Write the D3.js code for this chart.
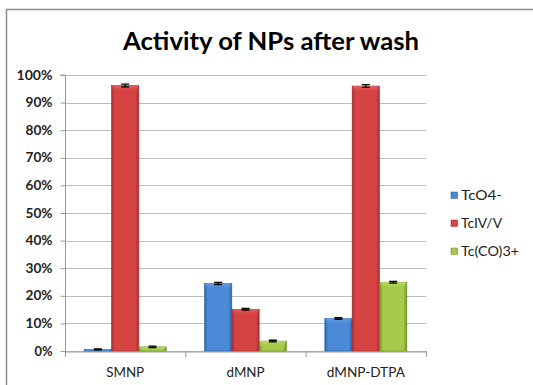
<!DOCTYPE html>
<html>
<head>
<meta charset="utf-8">
<script src="https://cdn.jsdelivr.net/npm/d3@7"></script>
<style>
  html, body { margin: 0; padding: 0; background: #fff; }
  svg { display: block; }
</style>
</head>
<body>
<svg id="chart" width="533" height="385"></svg>
<script>
// Chart data
const categories = ["SMNP", "dMNP", "dMNP-DTPA"];
const seriesNames = ["TcO4-", "TcIV/V", "Tc(CO)3+"];
const tco4 = [0.006, 0.245, 0.118];
const tcIVV = [0.962, 0.151, 0.960];
const tcCO3 = [0.015, 0.036, 0.249];
const errors = [[0.002, 0.004, 0.003], [0.005, 0.003, 0.005], [0.003, 0.003, 0.003]];
const yTicks = [0, 0.1, 0.2, 0.3, 0.4, 0.5, 0.6, 0.7, 0.8, 0.9, 1.0];

const seriesValues = [tco4, tcIVV, tcCO3];
const palette = [
  { dark: "#2f62a6", mid: "#4b8ad6", light: "#6fa3e6" },
  { dark: "#a82c2c", mid: "#d64343", light: "#e86a6a" },
  { dark: "#6f8f25", mid: "#a5ca4a", light: "#c2e070" }
];

const svg = d3.select("#chart");
const font = "Lato, 'Open Sans', 'Liberation Sans', sans-serif";

// Stretch a text element horizontally to a given width
function fitWidth(sel, w) {
  sel.attr("textLength", w).attr("lengthAdjust", "spacingAndGlyphs");
}

// Outer chart frame
svg.append("rect")
  .attr("x", 6.5).attr("y", 9.5)
  .attr("width", 600).attr("height", 500)
  .attr("fill", "#fff")
  .attr("stroke", "#8c8c8c").attr("stroke-width", 1.5);

// Title
svg.append("text")
  .attr("x", 271).attr("y", 50)
  .attr("text-anchor", "middle")
  .attr("font-family", font)
  .attr("font-weight", "bold")
  .attr("font-size", 25)
  .attr("fill", "#000")
  .text("Activity of NPs after wash")
  .call(fitWidth, 296);

const plot = { left: 65, right: 426, top: 75, bottom: 351 };

const x = d3.scaleBand().domain(categories).range([plot.left, plot.right]);
const y = d3.scaleLinear().domain([0, 1]).range([plot.bottom, plot.top]);
const inner = d3.scaleBand().domain(seriesNames)
  .range([0, x.bandwidth()]).paddingOuter(0.7).paddingInner(0);

// Gradients for the bevelled bars
const defs = svg.append("defs");
palette.forEach((c, i) => {
  const g = defs.append("linearGradient").attr("id", "grad" + i)
    .attr("x1", "0").attr("x2", "1").attr("y1", "0").attr("y2", "0");
  g.append("stop").attr("offset", "0%").attr("stop-color", c.dark);
  g.append("stop").attr("offset", "12%").attr("stop-color", c.mid);
  g.append("stop").attr("offset", "88%").attr("stop-color", c.mid);
  g.append("stop").attr("offset", "100%").attr("stop-color", c.dark);
  const t = defs.append("linearGradient").attr("id", "top" + i)
    .attr("x1", "0").attr("x2", "0").attr("y1", "0").attr("y2", "1");
  t.append("stop").attr("offset", "0%").attr("stop-color", c.light).attr("stop-opacity", 0.9);
  t.append("stop").attr("offset", "100%").attr("stop-color", c.mid).attr("stop-opacity", 0);
});

// Gridlines
svg.append("g")
  .selectAll("line")
  .data(yTicks)
  .join("line")
  .attr("x1", plot.left).attr("x2", plot.right)
  .attr("y1", d => Math.round(y(d)) + 0.5).attr("y2", d => Math.round(y(d)) + 0.5)
  .attr("stroke", "#bdbdbd").attr("stroke-width", 1);

// Y axis
const yAxis = svg.append("g")
  .attr("transform", `translate(${plot.left + 0.5},0)`)
  .call(d3.axisLeft(y).tickValues(yTicks).tickFormat(d3.format(".0%")).tickSize(5).tickPadding(8));
yAxis.select(".domain").attr("stroke", "#999").attr("d", `M-5,${plot.top}H0V${plot.bottom + 0.5}`);
yAxis.selectAll(".tick line").attr("stroke", "#999");
yAxis.selectAll("text")
  .attr("font-family", font).attr("font-size", 13).attr("font-weight", "bold").attr("fill", "#222")
  .each(function (d) {
    const label = d3.format(".0%")(d);
    fitWidth(d3.select(this), label.length * 9);
  });

// X axis
const xAxis = svg.append("g")
  .attr("transform", `translate(0,${plot.bottom + 0.5})`)
  .call(d3.axisBottom(x).tickSize(0).tickPadding(16));
xAxis.select(".domain").attr("stroke", "#999");
const catWidths = { "SMNP": 38, "dMNP": 38, "dMNP-DTPA": 78 };
xAxis.selectAll("text")
  .attr("font-family", font).attr("font-size", 13).attr("fill", "#222")
  .each(function (d) { fitWidth(d3.select(this), catWidths[d]); });
// Category separators
svg.append("g")
  .selectAll("line")
  .data(d3.range(categories.length + 1))
  .join("line")
  .attr("x1", i => plot.left + i * x.step() + 0.5)
  .attr("x2", i => plot.left + i * x.step() + 0.5)
  .attr("y1", plot.bottom).attr("y2", plot.bottom + 6)
  .attr("stroke", "#999");

// Bars
const barData = [];
categories.forEach((cat, ci) => {
  seriesNames.forEach((s, si) => {
    barData.push({ cat, s, si, v: seriesValues[si][ci], e: errors[si][ci] });
  });
});

const bars = svg.append("g").selectAll("g").data(barData).join("g")
  .attr("transform", d => `translate(${x(d.cat) + inner(d.s)},0)`);

bars.append("rect")
  .attr("x", 0).attr("y", d => y(d.v))
  .attr("width", inner.bandwidth()).attr("height", d => plot.bottom - y(d.v))
  .attr("fill", d => `url(#grad${d.si})`)
  .attr("stroke", d => palette[d.si].dark).attr("stroke-width", 0.6);

bars.append("rect")
  .attr("x", 1).attr("y", d => y(d.v))
  .attr("width", inner.bandwidth() - 2)
  .attr("height", d => Math.min(6, plot.bottom - y(d.v)))
  .attr("fill", d => `url(#top${d.si})`);

// Error bars
const cx = inner.bandwidth() / 2;
bars.append("path")
  .attr("d", d => {
    const y1 = y(d.v + d.e), y0 = y(d.v - d.e);
    return `M${cx - 4},${y1}H${cx + 4}M${cx},${y1}V${y0}M${cx - 4},${y0}H${cx + 4}`;
  })
  .attr("stroke", "#000").attr("stroke-width", 1.3).attr("fill", "none");

// Legend
const legendWidths = [41, 41, 58];
const legend = svg.append("g").selectAll("g").data(seriesNames).join("g")
  .attr("transform", (d, i) => `translate(451,${192 + i * 28})`);
legend.append("rect")
  .attr("width", 6.5).attr("height", 6.5)
  .attr("fill", (d, i) => `url(#grad${i})`)
  .attr("stroke", (d, i) => palette[i].dark).attr("stroke-width", 0.5);
legend.append("text")
  .attr("x", 10).attr("y", 7.5)
  .attr("font-family", font).attr("font-size", 12.5).attr("fill", "#222")
  .text(d => d)
  .each(function (d, i) { fitWidth(d3.select(this), legendWidths[i]); });
</script>
</body>
</html>
